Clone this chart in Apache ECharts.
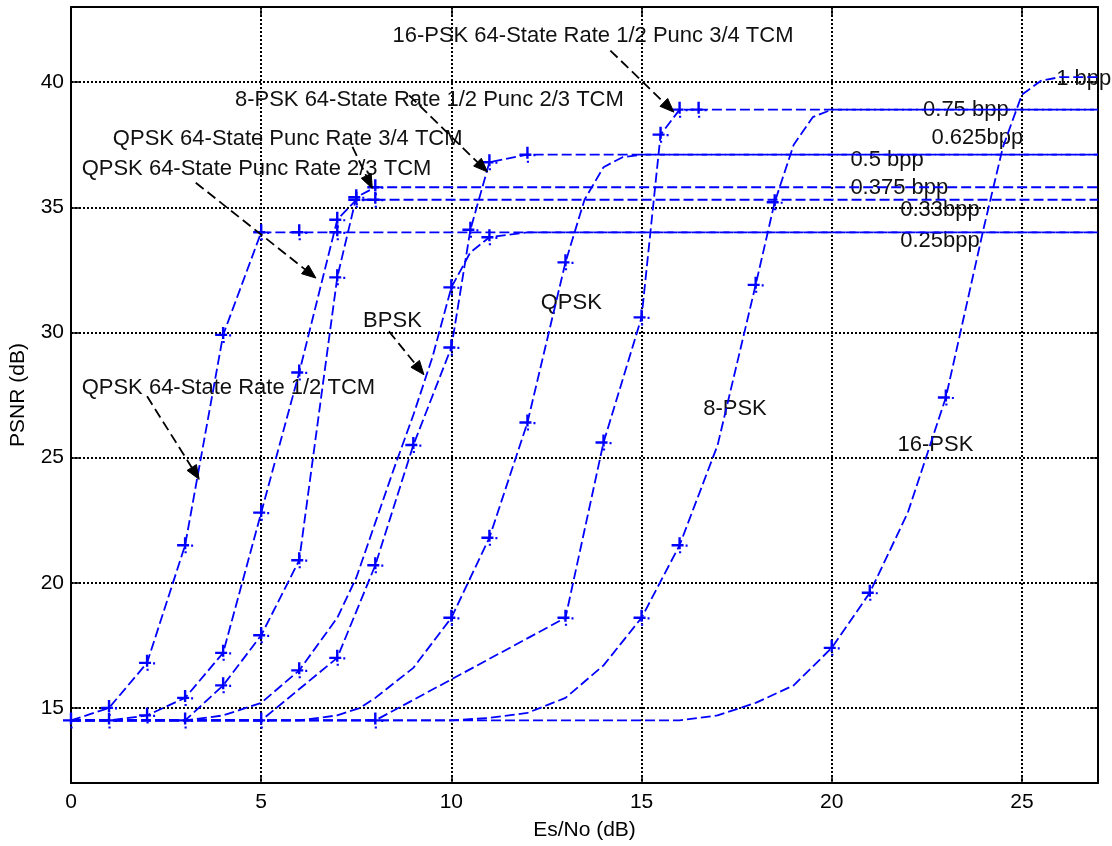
<!DOCTYPE html>
<html>
<head>
<meta charset="utf-8">
<script src="https://cdn.jsdelivr.net/npm/echarts@6/dist/echarts.min.js"></script>
<style>
  html, body { margin: 0; padding: 0; background: #fff; }
  #chart { width: 1112px; height: 846px; }
</style>
</head>
<body>
<div id="chart"></div>
<script>
// PSNR (dB) against Es/No (dB); each curve is a list of [Es/No, PSNR] samples,
// the *Marks lists are the simulated points drawn with '+'.
const qpskTcm12Line  = [[0,14.5],[1,15.0],[2,16.8],[3,21.5],[4,29.9],[5,34.0],[27,34.0]];
const qpskTcm12Marks = [[0,14.5],[1,15.0],[2,16.8],[3,21.5],[4,29.9],[5,34.0],[6,34.0],[7,34.0]];

const qpskTcm23Line  = [[0,14.5],[1,14.5],[2,14.7],[3,15.4],[4,17.2],[5,22.8],[6,28.4],[7,34.5],[7.5,35.3],[8,35.3],[27,35.3]];
const qpskTcm23Marks = [[1,14.5],[2,14.7],[3,15.4],[4,17.2],[5,22.8],[6,28.4],[7,34.5],[7.5,35.3],[8,35.3]];

const qpskTcm34Line  = [[0,14.5],[3,14.5],[4,15.9],[5,17.9],[6,20.9],[7,32.2],[7.5,35.4],[8,35.8],[27,35.8]];
const qpskTcm34Marks = [[3,14.5],[4,15.9],[5,17.9],[6,20.9],[7,32.2],[7.5,35.4],[8,35.8]];

const psk8TcmLine  = [[0,14.5],[5,14.5],[7,17.0],[8,20.7],[9,25.5],[10,29.4],[10.5,34.1],[11,36.8],[12,37.1],[27,37.1]];
const psk8TcmMarks = [[5,14.5],[7,17.0],[8,20.7],[9,25.5],[10,29.4],[10.5,34.1],[11,36.8],[12,37.1]];

const psk16TcmLine  = [[0,14.5],[8,14.5],[13,18.6],[14,25.6],[15,30.6],[15.5,37.9],[16,38.9],[16.5,38.9],[27,38.9]];
const psk16TcmMarks = [[8,14.5],[13,18.6],[14,25.6],[15,30.6],[15.5,37.9],[16,38.9],[16.5,38.9]];

const bpskLine  = [[0,14.5],[3,14.5],[4,14.7],[5,15.2],[6,16.5],[7,18.6],[7.5,20.2],[8,22.4],[8.5,24.6],[9,26.7],[9.5,29.0],[10,31.8],[10.5,33.2],[11,33.8],[12,34.0],[27,34.0]];
const bpskMarks = [[6,16.5],[10,31.8],[11,33.8]];

const qpskLine  = [[0,14.5],[6,14.5],[7,14.7],[7.6,15.0],[8,15.4],[9,16.6],[10,18.6],[11,21.8],[12,26.4],[13,32.8],[13.5,35.3],[14,36.6],[14.5,37.0],[15,37.1],[27,37.1]];
const qpskMarks = [[10,18.6],[11,21.8],[12,26.4],[13,32.8]];

const psk8Line  = [[0,14.5],[10,14.5],[11,14.6],[12,14.8],[13,15.4],[14,16.7],[15,18.6],[16,21.5],[17,25.5],[18,31.9],[18.5,35.2],[19,37.5],[19.5,38.6],[20,38.9],[27,38.9]];
const psk8Marks = [[15,18.6],[16,21.5],[18,31.9],[18.5,35.2]];

const psk16Line  = [[0,14.5],[16,14.5],[16.5,14.6],[17,14.7],[18,15.2],[19,15.9],[20,17.4],[21,19.6],[22,22.8],[23,27.4],[24,34.2],[24.5,37.4],[25,39.5],[25.5,40.05],[26,40.2],[27,40.2]];
const psk16Marks = [[20,17.4],[21,19.6],[23,27.4]];

// Tick labels
const xTicks = [0, 5, 10, 15, 20, 25];
const yTicks = [15, 20, 25, 30, 35, 40];

// Text annotations (left edge, vertical middle, in data units)
const notes = [
  { text: '16-PSK 64-State Rate 1/2 Punc 3/4 TCM', at: [8.45, 41.84] },
  { text: '8-PSK 64-State Rate 1/2 Punc 2/3 TCM',  at: [4.31, 39.30] },
  { text: 'QPSK 64-State Punc Rate 3/4 TCM',       at: [1.10, 37.71] },
  { text: 'QPSK 64-State Punc Rate 2/3 TCM',       at: [0.28, 36.53] },
  { text: 'QPSK 64-State Rate 1/2 TCM',            at: [0.28, 27.78] },
  { text: 'BPSK',     at: [7.68, 30.47] },
  { text: 'QPSK',     at: [12.35, 31.19] },
  { text: '8-PSK',    at: [16.62, 26.95] },
  { text: '16-PSK',   at: [21.73, 25.51] },
  { text: '1 bpp',    at: [25.90, 40.12] },
  { text: '0.75 bpp', at: [22.40, 38.90] },
  { text: '0.625bpp', at: [22.62, 37.78] },
  { text: '0.5 bpp',  at: [20.49, 36.88] },
  { text: '0.375 bpp',at: [20.49, 35.78] },
  { text: '0.33bpp',  at: [21.80, 34.89] },
  { text: '0.25bpp',  at: [21.80, 33.66] }
];

// Pointer arrows (tail -> tip, in data units)
const arrows = [
  { from: [14.18, 41.26], to: [15.85, 38.80] },
  { from: [8.89, 39.47],  to: [10.95, 36.41] },
  { from: [7.40, 37.41],  to: [7.92, 35.75] },
  { from: [3.28, 35.98],  to: [6.44, 32.17] },
  { from: [2.00, 27.45],  to: [3.37, 24.13] },
  { from: [8.36, 30.04],  to: [9.28, 28.31] }
];

const BLUE = '#0000ff';
const FONT = '"Liberation Sans", Arial, Helvetica, sans-serif';
const DASH = [10, 4];
// '+' marker drawn with the broken arms of a dashed pen
const PLUS = 'path://M0,6.8L12,6.8L12,9.2L0,9.2Z M14,7.4L16,7.4L16,9.6L14,9.6Z M6.8,0L9.2,0L9.2,12L6.8,12Z M7.4,14L9.6,14L9.6,16L7.4,16Z';

const curves = [
  [qpskTcm12Line, qpskTcm12Marks],
  [qpskTcm23Line, qpskTcm23Marks],
  [qpskTcm34Line, qpskTcm34Marks],
  [psk8TcmLine, psk8TcmMarks],
  [psk16TcmLine, psk16TcmMarks],
  [bpskLine, bpskMarks],
  [qpskLine, qpskMarks],
  [psk8Line, psk8Marks],
  [psk16Line, psk16Marks]
];

const series = [];
curves.forEach(([line, marks]) => {
  series.push({
    type: 'line', data: line, showSymbol: false, symbol: 'none', smooth: false,
    lineStyle: { color: BLUE, width: 1.8, type: DASH }, silent: true, z: 3
  });
  series.push({
    type: 'scatter', data: marks, symbol: PLUS, symbolSize: 16,
    itemStyle: { color: BLUE, opacity: 1 }, silent: true, z: 4
  });
});

const axisCommon = {
  type: 'value',
  minInterval: 5,
  maxInterval: 5,
  axisLine: { show: true, onZero: false, lineStyle: { color: '#000', width: 2 } },
  axisTick: { show: true, inside: true, length: 8, lineStyle: { color: '#000', width: 1.5 } }
};

const gridLine = { show: true, lineStyle: { color: '#000', width: 2, type: [2, 2] } };

const chart = echarts.init(document.getElementById('chart'), null, { renderer: 'canvas' });

chart.setOption({
  animation: false,
  backgroundColor: '#fff',
  grid: { left: 70, right: 14, top: 7, bottom: 60, containLabel: false },
  xAxis: [
    Object.assign({}, axisCommon, {
      min: 0, max: 27, position: 'bottom',
      name: 'Es/No (dB)', nameLocation: 'middle', nameGap: 37,
      nameTextStyle: { color: '#000', fontSize: 21, fontFamily: FONT },
      axisLabel: {
        color: '#000', fontSize: 21, fontFamily: FONT, margin: 9,
        formatter: v => xTicks.includes(v) ? String(v) : ''
      },
      splitLine: gridLine
    }),
    Object.assign({}, axisCommon, {
      min: 0, max: 27, position: 'top',
      axisLabel: { show: false }, splitLine: { show: false }
    })
  ],
  yAxis: [
    Object.assign({}, axisCommon, {
      min: 12, max: 43, position: 'left',
      name: 'PSNR (dB)', nameLocation: 'middle', nameGap: 42,
      nameTextStyle: { color: '#000', fontSize: 21, fontFamily: FONT },
      axisLabel: {
        color: '#000', fontSize: 21, fontFamily: FONT, margin: 7,
        formatter: v => yTicks.includes(v) ? String(v) : ''
      },
      splitLine: gridLine
    }),
    Object.assign({}, axisCommon, {
      min: 12, max: 43, position: 'right',
      axisLabel: { show: false }, splitLine: { show: false }
    })
  ],
  series: series.map(s => Object.assign(s, { xAxisIndex: 0, yAxisIndex: 0 }))
});

// Annotation texts and dashed pointer arrows, placed through the axis scales
const px = p => chart.convertToPixel({ xAxisIndex: 0, yAxisIndex: 0 }, p);
const graphics = [];

notes.forEach(n => {
  const [x, y] = px(n.at);
  graphics.push({
    type: 'text', silent: true, z: 1,
    style: { text: n.text, x: x, y: y, fill: '#111', font: '22px ' + FONT, align: 'left', verticalAlign: 'middle' }
  });
});

arrows.forEach(a => {
  const s = px(a.from), t = px(a.to);
  const dx = t[0] - s[0], dy = t[1] - s[1];
  const len = Math.hypot(dx, dy);
  const ux = dx / len, uy = dy / len;
  const headL = 14, headW = 5.5;
  const bx = t[0] - ux * headL, by = t[1] - uy * headL;
  graphics.push({
    type: 'line', silent: true, z: 5,
    shape: { x1: s[0], y1: s[1], x2: bx, y2: by },
    style: { stroke: '#000', lineWidth: 1.8, lineDash: [10, 5] }
  });
  graphics.push({
    type: 'polygon', silent: true, z: 5,
    shape: { points: [[t[0], t[1]], [bx - uy * headW, by + ux * headW], [bx + uy * headW, by - ux * headW]] },
    style: { fill: '#000', stroke: '#000', lineWidth: 1 }
  });
});

chart.setOption({ graphic: graphics });
</script>
</body>
</html>
